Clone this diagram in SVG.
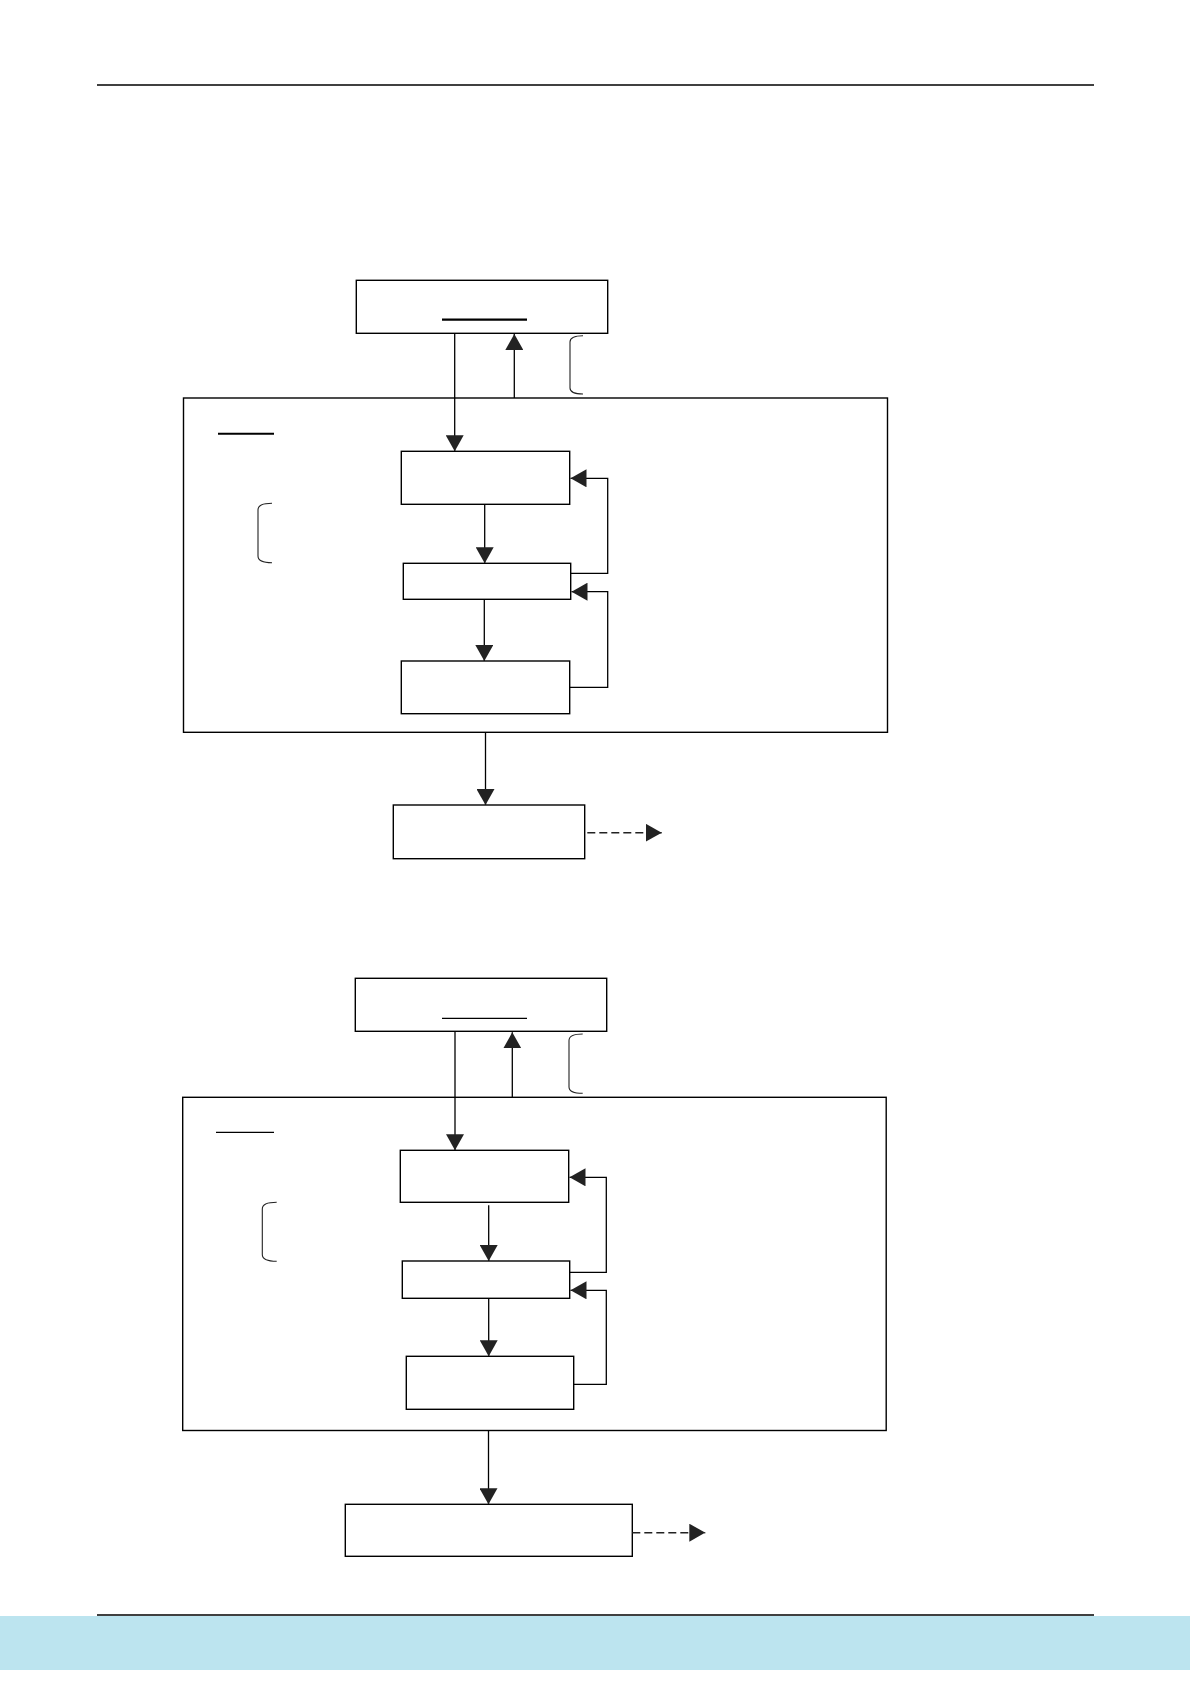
<svg xmlns="http://www.w3.org/2000/svg" width="1190" height="1684" viewBox="0 0 1190 1684">
<style>
.box{fill:#fff;stroke:#000;stroke-width:1.4}
.frame{fill:none;stroke:#000;stroke-width:1.4}
.con{fill:none;stroke:#000;stroke-width:1.3}
.dash{fill:none;stroke:#222;stroke-width:1.4;stroke-dasharray:8 4}
.brk{fill:none;stroke:#222;stroke-width:1.1}
.ul{stroke:#000}
</style>
<defs>
<marker id="ah" markerUnits="userSpaceOnUse" markerWidth="16" markerHeight="18" viewBox="0 0 16 18" refX="16" refY="9" orient="auto">
<path d="M0,0 L16,9 L0,18 Z" fill="#222"/>
</marker>
</defs>
<rect x="0" y="0" width="1190" height="1684" fill="#fff"/>
<g id="page">
<line x1="97" y1="85" x2="1094" y2="85" stroke="#000" stroke-width="1.5"/>
<rect x="0" y="1616" width="1190" height="54" fill="#bce4ef"/>
<line x1="97" y1="1615" x2="1094" y2="1615" stroke="#000" stroke-width="1.5"/>
</g>

<g id="diagram1">
<g id="d1-top"><rect class="box" x="356.3" y="280.3" width="251.4" height="53"/><line class="ul" x1="442" y1="319.7" x2="527" y2="319.7" stroke-width="2.2"/></g>
<g id="d1-frame"><rect class="frame" x="183.5" y="398" width="704" height="334.3"/><line class="ul" x1="218" y1="433.7" x2="274" y2="433.7" stroke-width="2"/><path class="brk" d="M272,503.3 Q258,503.3 258,510 L258,556 Q258,562.7 272,562.7"/></g>
<g id="d1-bracket"><path class="brk" d="M583,335.7 Q570,335.7 570,342 L570,388 Q570,394 583,394"/></g>
<g id="d1-b1"><rect class="box" x="401.3" y="451.3" width="168.4" height="53"/></g>
<g id="d1-b2"><rect class="box" x="403.3" y="563.3" width="167.4" height="36"/></g>
<g id="d1-b3"><rect class="box" x="401.3" y="661" width="168.4" height="52.7"/></g>
<g id="d1-b4"><rect class="box" x="393.3" y="805" width="191.4" height="53.7"/></g>
</g>

<g id="diagram2">
<g id="d2-top"><rect class="box" x="355.3" y="978.3" width="251.4" height="53"/><line class="ul" x1="442" y1="1018.3" x2="527" y2="1018.3" stroke-width="1.2"/></g>
<g id="d2-frame"><rect class="frame" x="182.7" y="1097.3" width="703.5" height="333.2"/><line class="ul" x1="216" y1="1132.3" x2="274" y2="1132.3" stroke-width="1.2"/><path class="brk" d="M276.7,1202.3 Q262.3,1202.3 262.3,1209 L262.3,1254.5 Q262.3,1261.3 276.7,1261.3"/></g>
<g id="d2-bracket"><path class="brk" d="M582.7,1034 Q569,1034 569,1040.5 L569,1087 Q569,1093.3 582.7,1093.3"/></g>
<g id="d2-b1"><rect class="box" x="400.3" y="1150.3" width="168.4" height="52"/></g>
<g id="d2-b2"><rect class="box" x="402.3" y="1261" width="167.4" height="37.3"/></g>
<g id="d2-b3"><rect class="box" x="406.3" y="1356.3" width="167.4" height="53"/></g>
<g id="d2-b4"><rect class="box" x="345.3" y="1504.3" width="287" height="52"/></g>
</g>

<g id="connectors">
<line class="con" x1="454.7" y1="333.3" x2="454.7" y2="451.3" marker-end="url(#ah)"/>
<line class="con" x1="514.3" y1="398" x2="514.3" y2="334" marker-end="url(#ah)"/>
<line class="con" x1="484.7" y1="504.3" x2="484.7" y2="563.3" marker-end="url(#ah)"/>
<line class="con" x1="484.3" y1="599.3" x2="484.3" y2="661" marker-end="url(#ah)"/>
<polyline class="con" points="570.7,573.3 607.7,573.3 607.7,478.3 570.5,478.3" marker-end="url(#ah)"/>
<polyline class="con" points="569.7,687.3 607.7,687.3 607.7,591.7 571.5,591.7" marker-end="url(#ah)"/>
<line class="con" x1="485.5" y1="732.3" x2="485.5" y2="805" marker-end="url(#ah)"/>
<line class="dash" x1="587.3" y1="832.7" x2="661.7" y2="832.7" marker-end="url(#ah)"/>

<line class="con" x1="455" y1="1031.3" x2="455" y2="1150.3" marker-end="url(#ah)"/>
<line class="con" x1="512.3" y1="1097.3" x2="512.3" y2="1032.3" marker-end="url(#ah)"/>
<line class="con" x1="488.7" y1="1205.3" x2="488.7" y2="1261" marker-end="url(#ah)"/>
<line class="con" x1="488.7" y1="1298.3" x2="488.7" y2="1356.3" marker-end="url(#ah)"/>
<polyline class="con" points="569.7,1272.3 606.3,1272.3 606.3,1177.3 569.5,1177.3" marker-end="url(#ah)"/>
<polyline class="con" points="573.7,1384.3 606.3,1384.3 606.3,1290.3 570.5,1290.3" marker-end="url(#ah)"/>
<line class="con" x1="488.5" y1="1430.5" x2="488.5" y2="1504.3" marker-end="url(#ah)"/>
<line class="dash" x1="632.3" y1="1532.7" x2="705.3" y2="1532.7" marker-end="url(#ah)"/>
</g>
</svg>
